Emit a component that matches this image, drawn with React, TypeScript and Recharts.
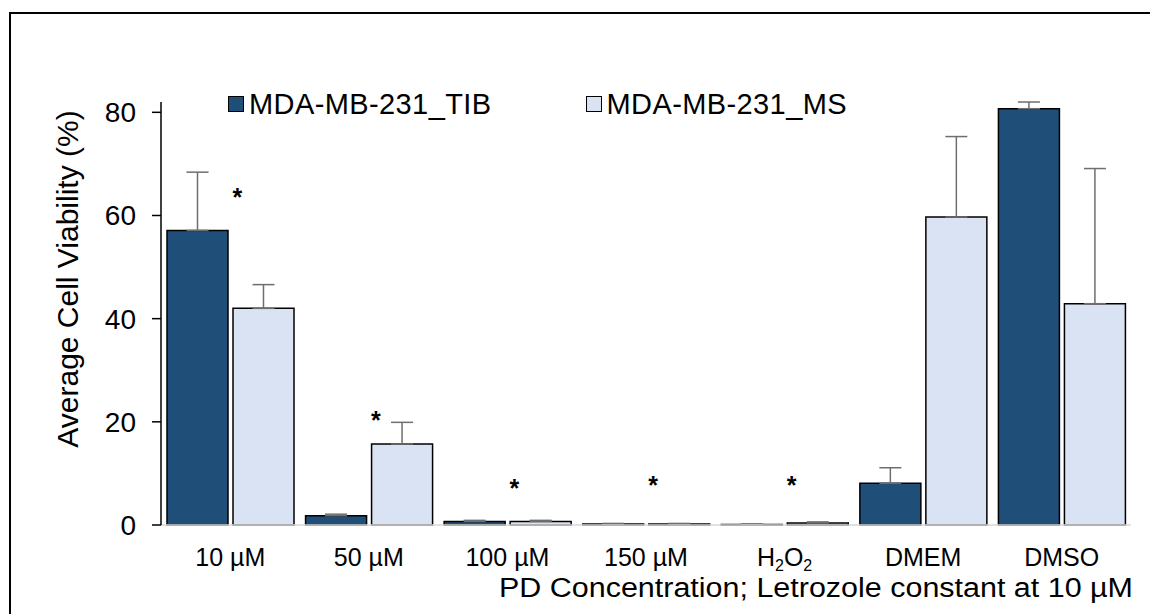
import { Bar, ComposedChart, ErrorBar, Label, Scatter, XAxis, YAxis } from "recharts";

const FONT = "'Liberation Sans', Arial, sans-serif";
const TIB_FILL = "#1F4E79";
const MS_FILL = "#DAE3F3";
const ERR = "#6e6e6e";

const CATEGORIES = ["10 µM", "50 µM", "100 µM", "150 µM", "H2O2", "DMEM", "DMSO"];
const TIB = [57.1, 1.8, 0.7, 0.2, 0.1, 8.1, 80.7];
const TIB_ERR = [11.3, 0.3, 0.2, 0.1, 0.1, 3.0, 1.3];
const MS = [42.0, 15.7, 0.7, 0.2, 0.4, 59.7, 42.9];
const MS_ERR = [4.6, 4.2, 0.2, 0.1, 0.2, 15.6, 26.2];
// height of the significance asterisk for each group (null = none)
const STAR: (number | null)[] = [64.5, 21.3, 8.1, 8.7, 8.7, null, null];
const Y_TICKS = [0, 20, 40, 60, 80];

const data = CATEGORIES.map((c, i) => ({
  name: c,
  tib: TIB[i],
  tibErr: [0, TIB_ERR[i]],
  ms: MS[i],
  msErr: [0, MS_ERR[i]],
  star: STAR[i],
}));

function CategoryTick(props: any) {
  const { x, y, payload } = props;
  const v = String(payload.value);
  if (v === "H2O2") {
    return (
      <text x={x} y={y + 39} textAnchor="middle" fontSize={25} fontFamily={FONT} fill="#000">
        <tspan>H</tspan>
        <tspan dy={5} fontSize={16}>2</tspan>
        <tspan dy={-5}>O</tspan>
        <tspan dy={5} fontSize={16}>2</tspan>
      </text>
    );
  }
  return (
    <text x={x} y={y + 39} textAnchor="middle" fontSize={25} fontFamily={FONT} fill="#000">
      {v}
    </text>
  );
}

function Star(props: any) {
  const { cx, cy, payload } = props;
  if (payload?.star == null || cx == null || cy == null) return <g />;
  return (
    <text x={cx + 7} y={cy + 14} textAnchor="middle" fontSize={25} fontWeight="bold" fontFamily={FONT} fill="#000">
      *
    </text>
  );
}

function LegendItem({ color, label }: { color: string; label: string }) {
  return (
    <span style={{ display: "inline-flex", alignItems: "center" }}>
      <span
        style={{
          display: "inline-block",
          width: 14,
          height: 14,
          background: color,
          border: "1.5px solid #000",
          marginRight: 5,
        }}
      />
      {label}
    </span>
  );
}

export default function App() {
  return (
    <div style={{ position: "relative", width: 1150, height: 606, overflow: "hidden", fontFamily: FONT }}>
      <div
        style={{
          position: "absolute",
          left: 1,
          top: 4,
          width: 1400,
          height: 800,
          borderLeft: "2px solid #000",
          borderTop: "2px solid #000",
        }}
      />
      <ComposedChart
        width={1150}
        height={606}
        data={data}
        margin={{ top: 94, right: 27, left: 0, bottom: 0 }}
        barCategoryGap={6}
        barGap={5}
      >
        <XAxis
          dataKey="name"
          height={89}
          axisLine={{ stroke: "#d9d9d9", strokeWidth: 1.5 }}
          tickLine={false}
          tickSize={0}
          tick={<CategoryTick />}
          interval={0}
        >
          <Label
            content={() => (
              <text
                x={1125}
                y={589}
                textAnchor="end"
                fontSize={27}
                textLength={634}
                lengthAdjust="spacingAndGlyphs"
                fontFamily={FONT}
                fill="#000"
              >
                PD Concentration; Letrozole constant at 10 µM
              </text>
            )}
          />
        </XAxis>
        <YAxis
          width={153}
          domain={[0, 82]}
          ticks={Y_TICKS}
          axisLine={{ stroke: "#000", strokeWidth: 1.5 }}
          tickLine={{ stroke: "#000", strokeWidth: 1.5 }}
          tickSize={9}
          tickMargin={16}
          tick={{ fill: "#000", fontSize: 28, fontFamily: FONT }}
        >
          <Label
            content={() => (
              <text
                x={59}
                y={271}
                transform="rotate(-90 59 271)"
                textAnchor="middle"
                dominantBaseline="central"
                fontSize={30}
                fontFamily={FONT}
                fill="#000"
              >
                Average Cell Viability (%)
              </text>
            )}
          />
        </YAxis>
        <Bar dataKey="tib" fill={TIB_FILL} stroke="#000" strokeWidth={1.5} isAnimationActive={false}>
          <ErrorBar dataKey="tibErr" direction="y" width={11} stroke={ERR} strokeWidth={1.5} />
        </Bar>
        <Bar dataKey="ms" fill={MS_FILL} stroke="#000" strokeWidth={1.5} isAnimationActive={false}>
          <ErrorBar dataKey="msErr" direction="y" width={11} stroke={ERR} strokeWidth={1.5} />
        </Bar>
        <Scatter dataKey="star" shape={<Star />} isAnimationActive={false} />
      </ComposedChart>
      <div
        style={{
          position: "absolute",
          left: 220,
          top: 80,
          fontSize: 29,
          letterSpacing: 0.4,
          color: "#000",
          display: "flex",
          lineHeight: "32px",
        }}
      >
        <LegendItem color={TIB_FILL} label="MDA-MB-231_TIB" />
        <span style={{ width: 94 }} />
        <LegendItem color={MS_FILL} label="MDA-MB-231_MS" />
      </div>
    </div>
  );
}
